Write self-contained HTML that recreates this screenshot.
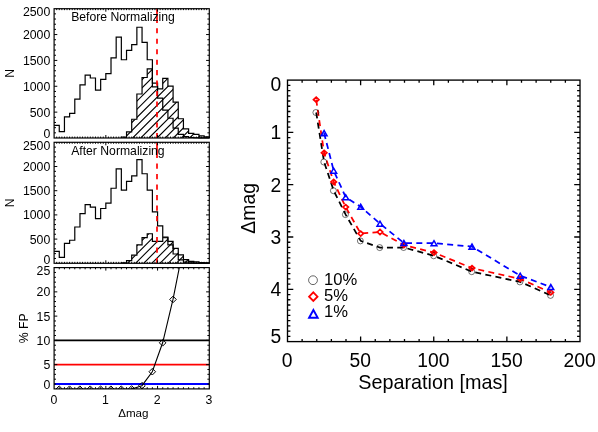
<!DOCTYPE html>
<html><head><meta charset="utf-8"><title>chart</title>
<style>html,body{margin:0;padding:0;background:#fff;}svg{display:block;will-change:transform;}</style>
</head><body>
<svg width="598" height="432" viewBox="0 0 598 432">
<rect width="598" height="432" fill="#fff"/>
<defs>
<clipPath id="cp1"><rect x="54.10" y="8.70" width="155.20" height="129.30"/></clipPath>
<clipPath id="cp2"><rect x="54.10" y="142.30" width="155.20" height="121.00"/></clipPath>
<clipPath id="cp3"><rect x="54.10" y="267.60" width="155.20" height="121.30"/></clipPath>
<clipPath id="hc1"><path d="M121.35 138.00 L121.35 137.22 L126.53 137.22 L126.53 131.79 L131.70 131.79 L131.70 119.23 L136.87 119.23 L136.87 93.99 L142.05 93.99 L142.05 77.49 L147.22 77.49 L147.22 68.80 L152.39 68.80 L152.39 86.80 L157.57 86.80 L157.57 88.87 L162.74 88.87 L162.74 78.37 L167.91 78.37 L167.91 86.07 L173.09 86.07 L173.09 102.05 L178.26 102.05 L178.26 118.76 L183.43 118.76 L183.43 128.95 L188.61 128.95 L188.61 133.35 L193.78 133.35 L193.78 134.28 L198.95 134.28 L198.95 135.93 L204.13 135.93 L204.13 136.86 L209.30 136.86 L209.30 138.00 Z"/></clipPath>
<clipPath id="hc2"><path d="M121.35 263.30 L121.35 262.91 L126.53 262.91 L126.53 260.69 L131.70 260.69 L131.70 255.17 L136.87 255.17 L136.87 244.81 L142.05 244.81 L142.05 237.55 L147.22 237.55 L147.22 233.73 L152.39 233.73 L152.39 241.28 L157.57 241.28 L157.57 241.28 L162.74 241.28 L162.74 237.74 L167.91 237.74 L167.91 241.42 L173.09 241.42 L173.09 248.30 L178.26 248.30 L178.26 254.83 L183.43 254.83 L183.43 259.57 L188.61 259.57 L188.61 261.46 L193.78 261.46 L193.78 261.94 L198.95 261.94 L198.95 262.53 L204.13 262.53 L204.13 262.86 L209.30 262.86 L209.30 263.30 Z"/></clipPath>
</defs>
<path d="M26.70 138.00 L226.70 -62.00 M34.85 138.00 L234.85 -62.00 M43.00 138.00 L243.00 -62.00 M51.15 138.00 L251.15 -62.00 M59.30 138.00 L259.30 -62.00 M67.45 138.00 L267.45 -62.00 M75.60 138.00 L275.60 -62.00 M83.75 138.00 L283.75 -62.00 M91.90 138.00 L291.90 -62.00 M100.05 138.00 L300.05 -62.00 M108.20 138.00 L308.20 -62.00 M116.35 138.00 L316.35 -62.00 M124.50 138.00 L324.50 -62.00 M132.65 138.00 L332.65 -62.00 M140.80 138.00 L340.80 -62.00 M148.95 138.00 L348.95 -62.00 M157.10 138.00 L357.10 -62.00 M165.25 138.00 L365.25 -62.00 M173.40 138.00 L373.40 -62.00 M181.55 138.00 L381.55 -62.00 M189.70 138.00 L389.70 -62.00 M197.85 138.00 L397.85 -62.00 M206.00 138.00 L406.00 -62.00 M214.15 138.00 L414.15 -62.00 M222.30 138.00 L422.30 -62.00 M230.45 138.00 L430.45 -62.00 M238.60 138.00 L438.60 -62.00 M246.75 138.00 L446.75 -62.00 M254.90 138.00 L454.90 -62.00 M263.05 138.00 L463.05 -62.00" stroke="#000" stroke-width="1.1" fill="none" clip-path="url(#hc1)"/>
<path d="M37.70 263.30 L237.70 63.30 M45.85 263.30 L245.85 63.30 M54.00 263.30 L254.00 63.30 M62.15 263.30 L262.15 63.30 M70.30 263.30 L270.30 63.30 M78.45 263.30 L278.45 63.30 M86.60 263.30 L286.60 63.30 M94.75 263.30 L294.75 63.30 M102.90 263.30 L302.90 63.30 M111.05 263.30 L311.05 63.30 M119.20 263.30 L319.20 63.30 M127.35 263.30 L327.35 63.30 M135.50 263.30 L335.50 63.30 M143.65 263.30 L343.65 63.30 M151.80 263.30 L351.80 63.30 M159.95 263.30 L359.95 63.30 M168.10 263.30 L368.10 63.30 M176.25 263.30 L376.25 63.30 M184.40 263.30 L384.40 63.30 M192.55 263.30 L392.55 63.30 M200.70 263.30 L400.70 63.30 M208.85 263.30 L408.85 63.30 M217.00 263.30 L417.00 63.30 M225.15 263.30 L425.15 63.30 M233.30 263.30 L433.30 63.30 M241.45 263.30 L441.45 63.30 M249.60 263.30 L449.60 63.30 M257.75 263.30 L457.75 63.30 M265.90 263.30 L465.90 63.30 M274.05 263.30 L474.05 63.30" stroke="#000" stroke-width="1.1" fill="none" clip-path="url(#hc2)"/>
<path d="M54.10 125.33 L59.27 125.33 L59.27 131.69 L64.45 131.69 L64.45 116.79 L69.62 116.79 L69.62 113.38 L74.79 113.38 L74.79 99.21 L79.97 99.21 L79.97 84.94 L85.14 84.94 L85.14 75.21 L90.31 75.21 L90.31 78.00 L95.49 78.00 L95.49 90.16 L100.66 90.16 L100.66 79.45 L105.83 79.45 L105.83 73.61 L111.01 73.61 L111.01 57.78 L116.18 57.78 L116.18 37.20 L121.35 37.20 L121.35 59.75 L126.53 59.75 L126.53 50.44 L131.70 50.44 L131.70 44.54 L136.87 44.54 L136.87 27.27 L142.05 27.27 L142.05 42.32 L147.22 42.32 L147.22 59.75 L152.39 59.75 L152.39 83.07 L157.57 83.07 L157.57 98.07 L162.74 98.07 L162.74 110.07 L167.91 110.07 L167.91 118.24 L173.09 118.24 L173.09 128.07 L178.26 128.07 L178.26 134.28 L183.43 134.28 L183.43 136.71 L188.61 136.71 L188.61 137.48 L193.78 137.48 L193.78 137.74 L198.95 137.74 L198.95 137.84 L204.13 137.84 L204.13 137.90 L209.30 137.90 L209.30 138.00" stroke="#000" stroke-width="1.2" fill="none" stroke-linejoin="miter"/>
<path d="M121.35 138.00 L121.35 137.22 L126.53 137.22 L126.53 131.79 L131.70 131.79 L131.70 119.23 L136.87 119.23 L136.87 93.99 L142.05 93.99 L142.05 77.49 L147.22 77.49 L147.22 68.80 L152.39 68.80 L152.39 86.80 L157.57 86.80 L157.57 88.87 L162.74 88.87 L162.74 78.37 L167.91 78.37 L167.91 86.07 L173.09 86.07 L173.09 102.05 L178.26 102.05 L178.26 118.76 L183.43 118.76 L183.43 128.95 L188.61 128.95 L188.61 133.35 L193.78 133.35 L193.78 134.28 L198.95 134.28 L198.95 135.93 L204.13 135.93 L204.13 136.86 L209.30 136.86 L209.30 138.00" stroke="#000" stroke-width="1.2" fill="none"/>
<path d="M157.00 8.70 V23.00 M157.00 28.20 V33.30 M157.00 38.68 V43.78 M157.00 49.16 V54.26 M157.00 59.64 V64.74 M157.00 70.12 V75.22 M157.00 80.60 V85.70 M157.00 91.08 V96.18 M157.00 101.56 V106.66 M157.00 112.04 V117.14 M157.00 122.52 V127.62 M157.00 133.00 V138.00" stroke="#f00" stroke-width="1.7" fill="none"/>
<path d="M54.10 251.44 L59.27 251.44 L59.27 257.40 L64.45 257.40 L64.45 243.46 L69.62 243.46 L69.62 240.26 L74.79 240.26 L74.79 227.00 L79.97 227.00 L79.97 213.64 L85.14 213.64 L85.14 204.54 L90.31 204.54 L90.31 207.16 L95.49 207.16 L95.49 218.53 L100.66 218.53 L100.66 208.51 L105.83 208.51 L105.83 203.04 L111.01 203.04 L111.01 188.23 L116.18 188.23 L116.18 168.97 L121.35 168.97 L121.35 190.07 L126.53 190.07 L126.53 181.36 L131.70 181.36 L131.70 175.84 L136.87 175.84 L136.87 159.68 L142.05 159.68 L142.05 173.76 L147.22 173.76 L147.22 190.07 L152.39 190.07 L152.39 211.90 L157.57 211.90 L157.57 225.94 L162.74 225.94 L162.74 237.16 L167.91 237.16 L167.91 244.81 L173.09 244.81 L173.09 254.01 L178.26 254.01 L178.26 259.82 L183.43 259.82 L183.43 262.09 L188.61 262.09 L188.61 262.82 L193.78 262.82 L193.78 263.06 L198.95 263.06 L198.95 263.15 L204.13 263.15 L204.13 263.20 L209.30 263.20 L209.30 263.30" stroke="#000" stroke-width="1.2" fill="none" stroke-linejoin="miter"/>
<path d="M121.35 263.30 L121.35 262.91 L126.53 262.91 L126.53 260.69 L131.70 260.69 L131.70 255.17 L136.87 255.17 L136.87 244.81 L142.05 244.81 L142.05 237.55 L147.22 237.55 L147.22 233.73 L152.39 233.73 L152.39 241.28 L157.57 241.28 L157.57 241.28 L162.74 241.28 L162.74 237.74 L167.91 237.74 L167.91 241.42 L173.09 241.42 L173.09 248.30 L178.26 248.30 L178.26 254.83 L183.43 254.83 L183.43 259.57 L188.61 259.57 L188.61 261.46 L193.78 261.46 L193.78 261.94 L198.95 261.94 L198.95 262.53 L204.13 262.53 L204.13 262.86 L209.30 262.86 L209.30 263.30" stroke="#000" stroke-width="1.2" fill="none"/>
<path d="M157.00 142.30 V158.10 M157.00 163.60 V168.70 M157.00 174.10 V179.20 M157.00 184.60 V189.70 M157.00 195.10 V200.20 M157.00 205.60 V210.70 M157.00 216.10 V221.20 M157.00 226.60 V231.70 M157.00 237.10 V242.20 M157.00 247.60 V252.70 M157.00 258.10 V263.20" stroke="#f00" stroke-width="1.7" fill="none"/>
<g clip-path="url(#cp3)">
<path d="M54.10 340.38 H209.30" stroke="#000" stroke-width="1.6"/>
<path d="M54.10 364.64 H209.30" stroke="#f00" stroke-width="1.6"/>
<path d="M54.10 384.10 H209.30" stroke="#00f" stroke-width="2.0"/>
<path d="M59.17 389.20 L69.52 389.20 L79.87 389.20 L90.21 389.20 L100.56 389.20 L110.91 389.20 L121.25 389.20 L131.60 388.96 L141.95 385.66 L152.29 371.73 L162.64 342.81 L172.99 299.44 L183.33 247.52" stroke="#000" stroke-width="1.1" fill="none"/>
<path d="M55.87 389.20 l3.3 -3.3 l3.3 3.3 l-3.3 3.3 z" stroke="#000" stroke-width="1.0" fill="none"/>
<path d="M66.22 389.20 l3.3 -3.3 l3.3 3.3 l-3.3 3.3 z" stroke="#000" stroke-width="1.0" fill="none"/>
<path d="M76.57 389.20 l3.3 -3.3 l3.3 3.3 l-3.3 3.3 z" stroke="#000" stroke-width="1.0" fill="none"/>
<path d="M86.91 389.20 l3.3 -3.3 l3.3 3.3 l-3.3 3.3 z" stroke="#000" stroke-width="1.0" fill="none"/>
<path d="M97.26 389.20 l3.3 -3.3 l3.3 3.3 l-3.3 3.3 z" stroke="#000" stroke-width="1.0" fill="none"/>
<path d="M107.61 389.20 l3.3 -3.3 l3.3 3.3 l-3.3 3.3 z" stroke="#000" stroke-width="1.0" fill="none"/>
<path d="M117.95 389.20 l3.3 -3.3 l3.3 3.3 l-3.3 3.3 z" stroke="#000" stroke-width="1.0" fill="none"/>
<path d="M128.30 388.96 l3.3 -3.3 l3.3 3.3 l-3.3 3.3 z" stroke="#000" stroke-width="1.0" fill="none"/>
<path d="M138.65 385.66 l3.3 -3.3 l3.3 3.3 l-3.3 3.3 z" stroke="#000" stroke-width="1.0" fill="none"/>
<path d="M148.99 371.73 l3.3 -3.3 l3.3 3.3 l-3.3 3.3 z" stroke="#000" stroke-width="1.0" fill="none"/>
<path d="M159.34 342.81 l3.3 -3.3 l3.3 3.3 l-3.3 3.3 z" stroke="#000" stroke-width="1.0" fill="none"/>
<path d="M169.69 299.44 l3.3 -3.3 l3.3 3.3 l-3.3 3.3 z" stroke="#000" stroke-width="1.0" fill="none"/>
<path d="M180.03 247.52 l3.3 -3.3 l3.3 3.3 l-3.3 3.3 z" stroke="#000" stroke-width="1.0" fill="none"/>
</g>
<rect x="54.10" y="8.70" width="155.20" height="129.30" stroke="#000" stroke-width="1.18" fill="none"/>
<path d="M56.69 138.00 v-1.45 M56.69 8.70 v1.45 M59.27 138.00 v-1.45 M59.27 8.70 v1.45 M61.86 138.00 v-1.45 M61.86 8.70 v1.45 M64.45 138.00 v-1.45 M64.45 8.70 v1.45 M67.03 138.00 v-1.45 M67.03 8.70 v1.45 M69.62 138.00 v-1.45 M69.62 8.70 v1.45 M72.21 138.00 v-1.45 M72.21 8.70 v1.45 M74.79 138.00 v-1.45 M74.79 8.70 v1.45 M77.38 138.00 v-1.45 M77.38 8.70 v1.45 M79.97 138.00 v-1.45 M79.97 8.70 v1.45 M82.55 138.00 v-1.45 M82.55 8.70 v1.45 M85.14 138.00 v-1.45 M85.14 8.70 v1.45 M87.73 138.00 v-1.45 M87.73 8.70 v1.45 M90.31 138.00 v-1.45 M90.31 8.70 v1.45 M92.90 138.00 v-1.45 M92.90 8.70 v1.45 M95.49 138.00 v-1.45 M95.49 8.70 v1.45 M98.07 138.00 v-1.45 M98.07 8.70 v1.45 M100.66 138.00 v-1.45 M100.66 8.70 v1.45 M103.25 138.00 v-1.45 M103.25 8.70 v1.45 M105.83 138.00 v-3.00 M105.83 8.70 v3.00 M108.42 138.00 v-1.45 M108.42 8.70 v1.45 M111.01 138.00 v-1.45 M111.01 8.70 v1.45 M113.59 138.00 v-1.45 M113.59 8.70 v1.45 M116.18 138.00 v-1.45 M116.18 8.70 v1.45 M118.77 138.00 v-1.45 M118.77 8.70 v1.45 M121.35 138.00 v-1.45 M121.35 8.70 v1.45 M123.94 138.00 v-1.45 M123.94 8.70 v1.45 M126.53 138.00 v-1.45 M126.53 8.70 v1.45 M129.11 138.00 v-1.45 M129.11 8.70 v1.45 M131.70 138.00 v-1.45 M131.70 8.70 v1.45 M134.29 138.00 v-1.45 M134.29 8.70 v1.45 M136.87 138.00 v-1.45 M136.87 8.70 v1.45 M139.46 138.00 v-1.45 M139.46 8.70 v1.45 M142.05 138.00 v-1.45 M142.05 8.70 v1.45 M144.63 138.00 v-1.45 M144.63 8.70 v1.45 M147.22 138.00 v-1.45 M147.22 8.70 v1.45 M149.81 138.00 v-1.45 M149.81 8.70 v1.45 M152.39 138.00 v-1.45 M152.39 8.70 v1.45 M154.98 138.00 v-1.45 M154.98 8.70 v1.45 M157.57 138.00 v-3.00 M157.57 8.70 v3.00 M160.15 138.00 v-1.45 M160.15 8.70 v1.45 M162.74 138.00 v-1.45 M162.74 8.70 v1.45 M165.33 138.00 v-1.45 M165.33 8.70 v1.45 M167.91 138.00 v-1.45 M167.91 8.70 v1.45 M170.50 138.00 v-1.45 M170.50 8.70 v1.45 M173.09 138.00 v-1.45 M173.09 8.70 v1.45 M175.67 138.00 v-1.45 M175.67 8.70 v1.45 M178.26 138.00 v-1.45 M178.26 8.70 v1.45 M180.85 138.00 v-1.45 M180.85 8.70 v1.45 M183.43 138.00 v-1.45 M183.43 8.70 v1.45 M186.02 138.00 v-1.45 M186.02 8.70 v1.45 M188.61 138.00 v-1.45 M188.61 8.70 v1.45 M191.19 138.00 v-1.45 M191.19 8.70 v1.45 M193.78 138.00 v-1.45 M193.78 8.70 v1.45 M196.37 138.00 v-1.45 M196.37 8.70 v1.45 M198.95 138.00 v-1.45 M198.95 8.70 v1.45 M201.54 138.00 v-1.45 M201.54 8.70 v1.45 M204.13 138.00 v-1.45 M204.13 8.70 v1.45 M206.71 138.00 v-1.45 M206.71 8.70 v1.45 M54.10 132.83 h1.90 M209.30 132.83 h-1.90 M54.10 127.66 h1.90 M209.30 127.66 h-1.90 M54.10 122.48 h1.90 M209.30 122.48 h-1.90 M54.10 117.31 h1.90 M209.30 117.31 h-1.90 M54.10 112.14 h3.20 M209.30 112.14 h-3.20 M54.10 106.97 h1.90 M209.30 106.97 h-1.90 M54.10 101.80 h1.90 M209.30 101.80 h-1.90 M54.10 96.62 h1.90 M209.30 96.62 h-1.90 M54.10 91.45 h1.90 M209.30 91.45 h-1.90 M54.10 86.28 h3.20 M209.30 86.28 h-3.20 M54.10 81.11 h1.90 M209.30 81.11 h-1.90 M54.10 75.94 h1.90 M209.30 75.94 h-1.90 M54.10 70.76 h1.90 M209.30 70.76 h-1.90 M54.10 65.59 h1.90 M209.30 65.59 h-1.90 M54.10 60.42 h3.20 M209.30 60.42 h-3.20 M54.10 55.25 h1.90 M209.30 55.25 h-1.90 M54.10 50.08 h1.90 M209.30 50.08 h-1.90 M54.10 44.90 h1.90 M209.30 44.90 h-1.90 M54.10 39.73 h1.90 M209.30 39.73 h-1.90 M54.10 34.56 h3.20 M209.30 34.56 h-3.20 M54.10 29.39 h1.90 M209.30 29.39 h-1.90 M54.10 24.22 h1.90 M209.30 24.22 h-1.90 M54.10 19.04 h1.90 M209.30 19.04 h-1.90 M54.10 13.87 h1.90 M209.30 13.87 h-1.90" stroke="#000" stroke-width="1" fill="none"/>
<rect x="54.10" y="142.30" width="155.20" height="121.00" stroke="#000" stroke-width="1.18" fill="none"/>
<path d="M56.69 263.30 v-1.45 M56.69 142.30 v1.45 M59.27 263.30 v-1.45 M59.27 142.30 v1.45 M61.86 263.30 v-1.45 M61.86 142.30 v1.45 M64.45 263.30 v-1.45 M64.45 142.30 v1.45 M67.03 263.30 v-1.45 M67.03 142.30 v1.45 M69.62 263.30 v-1.45 M69.62 142.30 v1.45 M72.21 263.30 v-1.45 M72.21 142.30 v1.45 M74.79 263.30 v-1.45 M74.79 142.30 v1.45 M77.38 263.30 v-1.45 M77.38 142.30 v1.45 M79.97 263.30 v-1.45 M79.97 142.30 v1.45 M82.55 263.30 v-1.45 M82.55 142.30 v1.45 M85.14 263.30 v-1.45 M85.14 142.30 v1.45 M87.73 263.30 v-1.45 M87.73 142.30 v1.45 M90.31 263.30 v-1.45 M90.31 142.30 v1.45 M92.90 263.30 v-1.45 M92.90 142.30 v1.45 M95.49 263.30 v-1.45 M95.49 142.30 v1.45 M98.07 263.30 v-1.45 M98.07 142.30 v1.45 M100.66 263.30 v-1.45 M100.66 142.30 v1.45 M103.25 263.30 v-1.45 M103.25 142.30 v1.45 M105.83 263.30 v-3.00 M105.83 142.30 v3.00 M108.42 263.30 v-1.45 M108.42 142.30 v1.45 M111.01 263.30 v-1.45 M111.01 142.30 v1.45 M113.59 263.30 v-1.45 M113.59 142.30 v1.45 M116.18 263.30 v-1.45 M116.18 142.30 v1.45 M118.77 263.30 v-1.45 M118.77 142.30 v1.45 M121.35 263.30 v-1.45 M121.35 142.30 v1.45 M123.94 263.30 v-1.45 M123.94 142.30 v1.45 M126.53 263.30 v-1.45 M126.53 142.30 v1.45 M129.11 263.30 v-1.45 M129.11 142.30 v1.45 M131.70 263.30 v-1.45 M131.70 142.30 v1.45 M134.29 263.30 v-1.45 M134.29 142.30 v1.45 M136.87 263.30 v-1.45 M136.87 142.30 v1.45 M139.46 263.30 v-1.45 M139.46 142.30 v1.45 M142.05 263.30 v-1.45 M142.05 142.30 v1.45 M144.63 263.30 v-1.45 M144.63 142.30 v1.45 M147.22 263.30 v-1.45 M147.22 142.30 v1.45 M149.81 263.30 v-1.45 M149.81 142.30 v1.45 M152.39 263.30 v-1.45 M152.39 142.30 v1.45 M154.98 263.30 v-1.45 M154.98 142.30 v1.45 M157.57 263.30 v-3.00 M157.57 142.30 v3.00 M160.15 263.30 v-1.45 M160.15 142.30 v1.45 M162.74 263.30 v-1.45 M162.74 142.30 v1.45 M165.33 263.30 v-1.45 M165.33 142.30 v1.45 M167.91 263.30 v-1.45 M167.91 142.30 v1.45 M170.50 263.30 v-1.45 M170.50 142.30 v1.45 M173.09 263.30 v-1.45 M173.09 142.30 v1.45 M175.67 263.30 v-1.45 M175.67 142.30 v1.45 M178.26 263.30 v-1.45 M178.26 142.30 v1.45 M180.85 263.30 v-1.45 M180.85 142.30 v1.45 M183.43 263.30 v-1.45 M183.43 142.30 v1.45 M186.02 263.30 v-1.45 M186.02 142.30 v1.45 M188.61 263.30 v-1.45 M188.61 142.30 v1.45 M191.19 263.30 v-1.45 M191.19 142.30 v1.45 M193.78 263.30 v-1.45 M193.78 142.30 v1.45 M196.37 263.30 v-1.45 M196.37 142.30 v1.45 M198.95 263.30 v-1.45 M198.95 142.30 v1.45 M201.54 263.30 v-1.45 M201.54 142.30 v1.45 M204.13 263.30 v-1.45 M204.13 142.30 v1.45 M206.71 263.30 v-1.45 M206.71 142.30 v1.45 M54.10 258.46 h1.90 M209.30 258.46 h-1.90 M54.10 253.62 h1.90 M209.30 253.62 h-1.90 M54.10 248.78 h1.90 M209.30 248.78 h-1.90 M54.10 243.94 h1.90 M209.30 243.94 h-1.90 M54.10 239.10 h3.20 M209.30 239.10 h-3.20 M54.10 234.26 h1.90 M209.30 234.26 h-1.90 M54.10 229.42 h1.90 M209.30 229.42 h-1.90 M54.10 224.58 h1.90 M209.30 224.58 h-1.90 M54.10 219.74 h1.90 M209.30 219.74 h-1.90 M54.10 214.90 h3.20 M209.30 214.90 h-3.20 M54.10 210.06 h1.90 M209.30 210.06 h-1.90 M54.10 205.22 h1.90 M209.30 205.22 h-1.90 M54.10 200.38 h1.90 M209.30 200.38 h-1.90 M54.10 195.54 h1.90 M209.30 195.54 h-1.90 M54.10 190.70 h3.20 M209.30 190.70 h-3.20 M54.10 185.86 h1.90 M209.30 185.86 h-1.90 M54.10 181.02 h1.90 M209.30 181.02 h-1.90 M54.10 176.18 h1.90 M209.30 176.18 h-1.90 M54.10 171.34 h1.90 M209.30 171.34 h-1.90 M54.10 166.50 h3.20 M209.30 166.50 h-3.20 M54.10 161.66 h1.90 M209.30 161.66 h-1.90 M54.10 156.82 h1.90 M209.30 156.82 h-1.90 M54.10 151.98 h1.90 M209.30 151.98 h-1.90 M54.10 147.14 h1.90 M209.30 147.14 h-1.90" stroke="#000" stroke-width="1" fill="none"/>
<rect x="54.10" y="267.60" width="155.20" height="121.30" stroke="#000" stroke-width="1.18" fill="none"/>
<path d="M59.27 388.90 v-1.70 M59.27 267.60 v1.70 M64.45 388.90 v-1.70 M64.45 267.60 v1.70 M69.62 388.90 v-1.70 M69.62 267.60 v1.70 M74.79 388.90 v-1.70 M74.79 267.60 v1.70 M79.97 388.90 v-1.70 M79.97 267.60 v1.70 M85.14 388.90 v-1.70 M85.14 267.60 v1.70 M90.31 388.90 v-1.70 M90.31 267.60 v1.70 M95.49 388.90 v-1.70 M95.49 267.60 v1.70 M100.66 388.90 v-1.70 M100.66 267.60 v1.70 M105.83 388.90 v-3.00 M105.83 267.60 v3.00 M111.01 388.90 v-1.70 M111.01 267.60 v1.70 M116.18 388.90 v-1.70 M116.18 267.60 v1.70 M121.35 388.90 v-1.70 M121.35 267.60 v1.70 M126.53 388.90 v-1.70 M126.53 267.60 v1.70 M131.70 388.90 v-1.70 M131.70 267.60 v1.70 M136.87 388.90 v-1.70 M136.87 267.60 v1.70 M142.05 388.90 v-1.70 M142.05 267.60 v1.70 M147.22 388.90 v-1.70 M147.22 267.60 v1.70 M152.39 388.90 v-1.70 M152.39 267.60 v1.70 M157.57 388.90 v-3.00 M157.57 267.60 v3.00 M162.74 388.90 v-1.70 M162.74 267.60 v1.70 M167.91 388.90 v-1.70 M167.91 267.60 v1.70 M173.09 388.90 v-1.70 M173.09 267.60 v1.70 M178.26 388.90 v-1.70 M178.26 267.60 v1.70 M183.43 388.90 v-1.70 M183.43 267.60 v1.70 M188.61 388.90 v-1.70 M188.61 267.60 v1.70 M193.78 388.90 v-1.70 M193.78 267.60 v1.70 M198.95 388.90 v-1.70 M198.95 267.60 v1.70 M204.13 388.90 v-1.70 M204.13 267.60 v1.70 M54.10 384.05 h1.90 M209.30 384.05 h-1.90 M54.10 379.20 h1.90 M209.30 379.20 h-1.90 M54.10 374.34 h1.90 M209.30 374.34 h-1.90 M54.10 369.49 h1.90 M209.30 369.49 h-1.90 M54.10 364.64 h3.20 M209.30 364.64 h-3.20 M54.10 359.79 h1.90 M209.30 359.79 h-1.90 M54.10 354.94 h1.90 M209.30 354.94 h-1.90 M54.10 350.08 h1.90 M209.30 350.08 h-1.90 M54.10 345.23 h1.90 M209.30 345.23 h-1.90 M54.10 340.38 h3.20 M209.30 340.38 h-3.20 M54.10 335.53 h1.90 M209.30 335.53 h-1.90 M54.10 330.68 h1.90 M209.30 330.68 h-1.90 M54.10 325.82 h1.90 M209.30 325.82 h-1.90 M54.10 320.97 h1.90 M209.30 320.97 h-1.90 M54.10 316.12 h3.20 M209.30 316.12 h-3.20 M54.10 311.27 h1.90 M209.30 311.27 h-1.90 M54.10 306.42 h1.90 M209.30 306.42 h-1.90 M54.10 301.56 h1.90 M209.30 301.56 h-1.90 M54.10 296.71 h1.90 M209.30 296.71 h-1.90 M54.10 291.86 h3.20 M209.30 291.86 h-3.20 M54.10 287.01 h1.90 M209.30 287.01 h-1.90 M54.10 282.16 h1.90 M209.30 282.16 h-1.90 M54.10 277.30 h1.90 M209.30 277.30 h-1.90 M54.10 272.45 h1.90 M209.30 272.45 h-1.90" stroke="#000" stroke-width="1" fill="none"/>
<text x="50.30" y="138.40" font-size="12.30" text-anchor="end" font-family="Liberation Sans, sans-serif" >0</text>
<text x="50.30" y="116.54" font-size="12.30" text-anchor="end" font-family="Liberation Sans, sans-serif" >500</text>
<text x="50.30" y="90.68" font-size="12.30" text-anchor="end" font-family="Liberation Sans, sans-serif" >1000</text>
<text x="50.30" y="64.82" font-size="12.30" text-anchor="end" font-family="Liberation Sans, sans-serif" >1500</text>
<text x="50.30" y="38.96" font-size="12.30" text-anchor="end" font-family="Liberation Sans, sans-serif" >2000</text>
<text x="50.30" y="16.00" font-size="12.30" text-anchor="end" font-family="Liberation Sans, sans-serif" >2500</text>
<text x="50.30" y="263.70" font-size="12.30" text-anchor="end" font-family="Liberation Sans, sans-serif" >0</text>
<text x="50.30" y="243.50" font-size="12.30" text-anchor="end" font-family="Liberation Sans, sans-serif" >500</text>
<text x="50.30" y="219.30" font-size="12.30" text-anchor="end" font-family="Liberation Sans, sans-serif" >1000</text>
<text x="50.30" y="195.10" font-size="12.30" text-anchor="end" font-family="Liberation Sans, sans-serif" >1500</text>
<text x="50.30" y="170.90" font-size="12.30" text-anchor="end" font-family="Liberation Sans, sans-serif" >2000</text>
<text x="50.30" y="149.60" font-size="12.30" text-anchor="end" font-family="Liberation Sans, sans-serif" >2500</text>
<text x="50.30" y="389.30" font-size="12.30" text-anchor="end" font-family="Liberation Sans, sans-serif" >0</text>
<text x="50.30" y="369.04" font-size="12.30" text-anchor="end" font-family="Liberation Sans, sans-serif" >5</text>
<text x="50.30" y="344.78" font-size="12.30" text-anchor="end" font-family="Liberation Sans, sans-serif" >10</text>
<text x="50.30" y="320.52" font-size="12.30" text-anchor="end" font-family="Liberation Sans, sans-serif" >15</text>
<text x="50.30" y="296.26" font-size="12.30" text-anchor="end" font-family="Liberation Sans, sans-serif" >20</text>
<text x="50.30" y="274.90" font-size="12.30" text-anchor="end" font-family="Liberation Sans, sans-serif" >25</text>
<text x="53.80" y="404.30" font-size="12.30" text-anchor="middle" font-family="Liberation Sans, sans-serif" >0</text>
<text x="105.53" y="404.30" font-size="12.30" text-anchor="middle" font-family="Liberation Sans, sans-serif" >1</text>
<text x="157.27" y="404.30" font-size="12.30" text-anchor="middle" font-family="Liberation Sans, sans-serif" >2</text>
<text x="209.00" y="404.30" font-size="12.30" text-anchor="middle" font-family="Liberation Sans, sans-serif" >3</text>
<text x="133.30" y="416.90" font-size="11.60" text-anchor="middle" font-family="Liberation Sans, sans-serif" >&#916;mag</text>
<text transform="translate(13.80 73.35) rotate(-90)" font-size="12.20" text-anchor="middle" font-family="Liberation Sans, sans-serif">N</text>
<text transform="translate(13.80 202.80) rotate(-90)" font-size="12.20" text-anchor="middle" font-family="Liberation Sans, sans-serif">N</text>
<text transform="translate(27.60 328.25) rotate(-90)" font-size="12.20" text-anchor="middle" font-family="Liberation Sans, sans-serif">% FP</text>
<text x="71.20" y="20.70" font-size="12.20" text-anchor="start" font-family="Liberation Sans, sans-serif" >Before Normalizing</text>
<text x="71.20" y="154.60" font-size="12.20" text-anchor="start" font-family="Liberation Sans, sans-serif" >After Normalizing</text>
<path d="M316.20 112.50 L324.10 162.00 L333.70 190.70 L345.70 214.60 L360.70 240.90 L380.00 247.60 L403.90 247.50 L434.00 255.80 L472.00 271.70 L520.20 281.90 L550.80 295.40" stroke="#000" stroke-width="1.75" stroke-dasharray="6 4.3" fill="none"/>
<path d="M316.20 99.70 L324.10 152.80 L333.70 181.90 L345.70 207.10 L360.70 233.60 L380.00 232.00 L403.90 245.00 L434.00 252.60 L472.00 268.10 L520.20 278.90 L550.80 292.40" stroke="#f00" stroke-width="1.75" stroke-dasharray="6 4.3" fill="none"/>
<path d="M324.10 133.10 L333.70 170.70 L345.70 197.20 L360.70 206.80 L380.00 223.70 L403.90 243.00 L434.00 243.20 L472.00 246.60 L520.20 275.70 L550.80 287.00" stroke="#00f" stroke-width="1.75" stroke-dasharray="6 4.3" fill="none"/>
<circle cx="315.90" cy="112.50" r="3.0" stroke="#000" stroke-width="0.55" fill="none"/>
<circle cx="323.80" cy="162.00" r="3.0" stroke="#000" stroke-width="0.55" fill="none"/>
<circle cx="333.40" cy="190.70" r="3.0" stroke="#000" stroke-width="0.55" fill="none"/>
<circle cx="345.40" cy="214.60" r="3.0" stroke="#000" stroke-width="0.55" fill="none"/>
<circle cx="360.40" cy="240.90" r="3.0" stroke="#000" stroke-width="0.55" fill="none"/>
<circle cx="379.70" cy="247.60" r="3.0" stroke="#000" stroke-width="0.55" fill="none"/>
<circle cx="403.60" cy="247.50" r="3.0" stroke="#000" stroke-width="0.55" fill="none"/>
<circle cx="433.70" cy="255.80" r="3.0" stroke="#000" stroke-width="0.55" fill="none"/>
<circle cx="471.70" cy="271.70" r="3.0" stroke="#000" stroke-width="0.55" fill="none"/>
<circle cx="519.90" cy="281.90" r="3.0" stroke="#000" stroke-width="0.55" fill="none"/>
<circle cx="550.50" cy="295.40" r="3.0" stroke="#000" stroke-width="0.55" fill="none"/>
<path d="M313.50 99.70 l2.7 -2.5 l2.7 2.5 l-2.7 2.5 z" stroke="#f00" stroke-width="1.7" fill="none"/>
<path d="M321.40 152.80 l2.7 -2.5 l2.7 2.5 l-2.7 2.5 z" stroke="#f00" stroke-width="1.7" fill="none"/>
<path d="M331.00 181.90 l2.7 -2.5 l2.7 2.5 l-2.7 2.5 z" stroke="#f00" stroke-width="1.7" fill="none"/>
<path d="M343.00 207.10 l2.7 -2.5 l2.7 2.5 l-2.7 2.5 z" stroke="#f00" stroke-width="1.7" fill="none"/>
<path d="M358.00 233.60 l2.7 -2.5 l2.7 2.5 l-2.7 2.5 z" stroke="#f00" stroke-width="1.7" fill="none"/>
<path d="M377.30 232.00 l2.7 -2.5 l2.7 2.5 l-2.7 2.5 z" stroke="#f00" stroke-width="1.7" fill="none"/>
<path d="M401.20 245.00 l2.7 -2.5 l2.7 2.5 l-2.7 2.5 z" stroke="#f00" stroke-width="1.7" fill="none"/>
<path d="M431.30 252.60 l2.7 -2.5 l2.7 2.5 l-2.7 2.5 z" stroke="#f00" stroke-width="1.7" fill="none"/>
<path d="M469.30 268.10 l2.7 -2.5 l2.7 2.5 l-2.7 2.5 z" stroke="#f00" stroke-width="1.7" fill="none"/>
<path d="M517.50 278.90 l2.7 -2.5 l2.7 2.5 l-2.7 2.5 z" stroke="#f00" stroke-width="1.7" fill="none"/>
<path d="M548.10 292.40 l2.7 -2.5 l2.7 2.5 l-2.7 2.5 z" stroke="#f00" stroke-width="1.7" fill="none"/>
<path d="M321.20 135.60 l2.9 -5.0 l2.9 5.0 z" stroke="#00f" stroke-width="1.55" fill="none"/>
<path d="M330.80 173.20 l2.9 -5.0 l2.9 5.0 z" stroke="#00f" stroke-width="1.55" fill="none"/>
<path d="M342.80 199.70 l2.9 -5.0 l2.9 5.0 z" stroke="#00f" stroke-width="1.55" fill="none"/>
<path d="M357.80 209.30 l2.9 -5.0 l2.9 5.0 z" stroke="#00f" stroke-width="1.55" fill="none"/>
<path d="M377.10 226.20 l2.9 -5.0 l2.9 5.0 z" stroke="#00f" stroke-width="1.55" fill="none"/>
<path d="M401.00 245.50 l2.9 -5.0 l2.9 5.0 z" stroke="#00f" stroke-width="1.55" fill="none"/>
<path d="M431.10 245.70 l2.9 -5.0 l2.9 5.0 z" stroke="#00f" stroke-width="1.55" fill="none"/>
<path d="M469.10 249.10 l2.9 -5.0 l2.9 5.0 z" stroke="#00f" stroke-width="1.55" fill="none"/>
<path d="M517.30 278.20 l2.9 -5.0 l2.9 5.0 z" stroke="#00f" stroke-width="1.55" fill="none"/>
<path d="M547.90 289.50 l2.9 -5.0 l2.9 5.0 z" stroke="#00f" stroke-width="1.55" fill="none"/>
<rect x="287.50" y="80.10" width="292.50" height="261.50" stroke="#000" stroke-width="1.35" fill="none"/>
<path d="M302.12 341.60 v-2.70 M302.12 80.10 v2.70 M316.75 341.60 v-2.70 M316.75 80.10 v2.70 M331.38 341.60 v-2.70 M331.38 80.10 v2.70 M346.00 341.60 v-2.70 M346.00 80.10 v2.70 M360.62 341.60 v-5.20 M360.62 80.10 v5.20 M375.25 341.60 v-2.70 M375.25 80.10 v2.70 M389.88 341.60 v-2.70 M389.88 80.10 v2.70 M404.50 341.60 v-2.70 M404.50 80.10 v2.70 M419.12 341.60 v-2.70 M419.12 80.10 v2.70 M433.75 341.60 v-5.20 M433.75 80.10 v5.20 M448.38 341.60 v-2.70 M448.38 80.10 v2.70 M463.00 341.60 v-2.70 M463.00 80.10 v2.70 M477.62 341.60 v-2.70 M477.62 80.10 v2.70 M492.25 341.60 v-2.70 M492.25 80.10 v2.70 M506.88 341.60 v-5.20 M506.88 80.10 v5.20 M521.50 341.60 v-2.70 M521.50 80.10 v2.70 M536.12 341.60 v-2.70 M536.12 80.10 v2.70 M550.75 341.60 v-2.70 M550.75 80.10 v2.70 M565.38 341.60 v-2.70 M565.38 80.10 v2.70 M287.50 85.33 h2.90 M580.00 85.33 h-2.90 M287.50 90.56 h2.90 M580.00 90.56 h-2.90 M287.50 95.79 h2.90 M580.00 95.79 h-2.90 M287.50 101.02 h2.90 M580.00 101.02 h-2.90 M287.50 106.25 h2.90 M580.00 106.25 h-2.90 M287.50 111.48 h2.90 M580.00 111.48 h-2.90 M287.50 116.71 h2.90 M580.00 116.71 h-2.90 M287.50 121.94 h2.90 M580.00 121.94 h-2.90 M287.50 127.17 h2.90 M580.00 127.17 h-2.90 M287.50 132.40 h5.80 M580.00 132.40 h-5.80 M287.50 137.63 h2.90 M580.00 137.63 h-2.90 M287.50 142.86 h2.90 M580.00 142.86 h-2.90 M287.50 148.09 h2.90 M580.00 148.09 h-2.90 M287.50 153.32 h2.90 M580.00 153.32 h-2.90 M287.50 158.55 h2.90 M580.00 158.55 h-2.90 M287.50 163.78 h2.90 M580.00 163.78 h-2.90 M287.50 169.01 h2.90 M580.00 169.01 h-2.90 M287.50 174.24 h2.90 M580.00 174.24 h-2.90 M287.50 179.47 h2.90 M580.00 179.47 h-2.90 M287.50 184.70 h5.80 M580.00 184.70 h-5.80 M287.50 189.93 h2.90 M580.00 189.93 h-2.90 M287.50 195.16 h2.90 M580.00 195.16 h-2.90 M287.50 200.39 h2.90 M580.00 200.39 h-2.90 M287.50 205.62 h2.90 M580.00 205.62 h-2.90 M287.50 210.85 h2.90 M580.00 210.85 h-2.90 M287.50 216.08 h2.90 M580.00 216.08 h-2.90 M287.50 221.31 h2.90 M580.00 221.31 h-2.90 M287.50 226.54 h2.90 M580.00 226.54 h-2.90 M287.50 231.77 h2.90 M580.00 231.77 h-2.90 M287.50 237.00 h5.80 M580.00 237.00 h-5.80 M287.50 242.23 h2.90 M580.00 242.23 h-2.90 M287.50 247.46 h2.90 M580.00 247.46 h-2.90 M287.50 252.69 h2.90 M580.00 252.69 h-2.90 M287.50 257.92 h2.90 M580.00 257.92 h-2.90 M287.50 263.15 h2.90 M580.00 263.15 h-2.90 M287.50 268.38 h2.90 M580.00 268.38 h-2.90 M287.50 273.61 h2.90 M580.00 273.61 h-2.90 M287.50 278.84 h2.90 M580.00 278.84 h-2.90 M287.50 284.07 h2.90 M580.00 284.07 h-2.90 M287.50 289.30 h5.80 M580.00 289.30 h-5.80 M287.50 294.53 h2.90 M580.00 294.53 h-2.90 M287.50 299.76 h2.90 M580.00 299.76 h-2.90 M287.50 304.99 h2.90 M580.00 304.99 h-2.90 M287.50 310.22 h2.90 M580.00 310.22 h-2.90 M287.50 315.45 h2.90 M580.00 315.45 h-2.90 M287.50 320.68 h2.90 M580.00 320.68 h-2.90 M287.50 325.91 h2.90 M580.00 325.91 h-2.90 M287.50 331.14 h2.90 M580.00 331.14 h-2.90 M287.50 336.37 h2.90 M580.00 336.37 h-2.90" stroke="#000" stroke-width="1.3" fill="none"/>
<text x="281.20" y="91.01" font-size="19.30" text-anchor="end" font-family="Liberation Sans, sans-serif" >0</text>
<text x="281.20" y="139.31" font-size="19.30" text-anchor="end" font-family="Liberation Sans, sans-serif" >1</text>
<text x="281.20" y="191.61" font-size="19.30" text-anchor="end" font-family="Liberation Sans, sans-serif" >2</text>
<text x="281.20" y="243.91" font-size="19.30" text-anchor="end" font-family="Liberation Sans, sans-serif" >3</text>
<text x="281.20" y="296.21" font-size="19.30" text-anchor="end" font-family="Liberation Sans, sans-serif" >4</text>
<text x="281.20" y="343.01" font-size="19.30" text-anchor="end" font-family="Liberation Sans, sans-serif" >5</text>
<text x="287.20" y="367.00" font-size="19.30" text-anchor="middle" font-family="Liberation Sans, sans-serif" >0</text>
<text x="360.32" y="367.00" font-size="19.30" text-anchor="middle" font-family="Liberation Sans, sans-serif" >50</text>
<text x="433.45" y="367.00" font-size="19.30" text-anchor="middle" font-family="Liberation Sans, sans-serif" >100</text>
<text x="506.57" y="367.00" font-size="19.30" text-anchor="middle" font-family="Liberation Sans, sans-serif" >150</text>
<text x="579.70" y="367.00" font-size="19.30" text-anchor="middle" font-family="Liberation Sans, sans-serif" >200</text>
<text x="433.10" y="388.80" font-size="19.80" text-anchor="middle" font-family="Liberation Sans, sans-serif" >Separation [mas]</text>
<text transform="translate(255.00 208.30) rotate(-90)" font-size="19.4" text-anchor="middle" font-family="Liberation Sans, sans-serif">&#916;mag</text>
<circle cx="313.0" cy="280.2" r="4.4" stroke="#000" stroke-width="0.6" fill="none"/>
<path d="M309.1 296.7 l4.2 -4.3 l4.2 4.3 l-4.2 4.3 z" stroke="#f00" stroke-width="1.8" fill="none"/>
<path d="M309.1 317.8 l4.3 -7.8 l4.3 7.8 z" stroke="#00f" stroke-width="1.9" fill="none"/>
<text x="324.00" y="284.50" font-size="16.60" text-anchor="start" font-family="Liberation Sans, sans-serif" >10%</text>
<text x="324.00" y="301.20" font-size="16.60" text-anchor="start" font-family="Liberation Sans, sans-serif" >5%</text>
<text x="324.00" y="317.30" font-size="16.60" text-anchor="start" font-family="Liberation Sans, sans-serif" >1%</text>
</svg>
</body></html>
